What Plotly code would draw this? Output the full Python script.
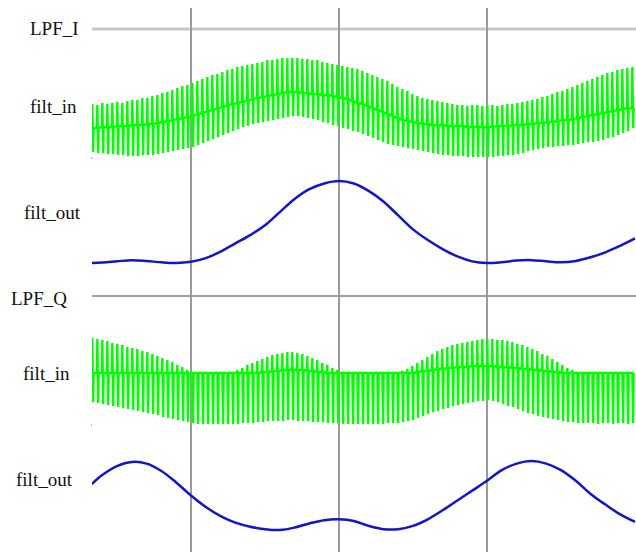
import plotly.graph_objects as go

# ---------------- data ----------------
labels = ["LPF_I", "filt_in", "filt_out", "LPF_Q", "filt_in", "filt_out"]

T_START = 0.33          # first sample time (grid divisions)
CYCLES_PER_DIV = 29.6   # carrier cycles per grid division

# smooth filter outputs, sampled in grid divisions
t_out = [0.33, 0.4, 0.5, 0.6, 0.7, 0.8, 0.9, 1.0, 1.1, 1.2, 1.3, 1.4, 1.5, 1.6, 1.7,
         1.8, 1.9, 2.0, 2.1, 2.2, 2.3, 2.4, 2.5, 2.6, 2.7, 2.8, 2.9, 3.0, 3.1, 3.2,
         3.3, 3.4, 3.5, 3.6, 3.7, 3.8, 3.9, 4.0]
i_out = [0.00, 0.005, 0.02, 0.035, 0.025, 0.008, 0.0, 0.015, 0.06, 0.14, 0.24, 0.34,
         0.46, 0.62, 0.78, 0.90, 0.97, 1.00, 0.97, 0.88, 0.75, 0.58, 0.41, 0.28, 0.17,
         0.08, 0.02, 0.00, 0.01, 0.03, 0.035, 0.02, 0.008, 0.025, 0.07, 0.13, 0.21, 0.30]
q_out = [0.56, 0.67, 0.78, 0.83, 0.81, 0.72, 0.58, 0.42, 0.28, 0.17, 0.09, 0.04, 0.01,
         0.00, 0.03, 0.08, 0.12, 0.13, 0.11, 0.05, 0.01, 0.01, 0.05, 0.13, 0.24, 0.36,
         0.48, 0.60, 0.73, 0.81, 0.84, 0.81, 0.73, 0.60, 0.44, 0.31, 0.19, 0.10]

# filter inputs: per carrier cycle, peak / rest level / trough
i_in_top = [26, 25, 27, 26, 27, 28, 27, 29, 30, 30, 32, 32, 34, 35, 37, 38, 40, 42, 44, 45,
            47, 49, 51, 53, 55, 56, 58, 60, 61, 63, 64, 65, 66, 67, 68, 70, 70, 71, 72, 72,
            72, 72, 71, 71, 70, 70, 68, 67, 66, 65, 64, 63, 62, 61, 59, 57, 55, 53, 51, 49,
            46, 43, 41, 39, 36, 34, 32, 31, 30, 29, 28, 27, 26, 25, 25, 24, 25, 25, 24, 25,
            25, 24, 25, 26, 26, 27, 28, 29, 30, 31, 33, 34, 36, 38, 39, 41, 43, 45, 47, 49,
            51, 53, 55, 57, 58, 60, 61, 62, 63]
i_in_mid = [2, 2, 3, 3, 3, 4, 4, 4, 5, 5, 5, 6, 6, 7, 8, 9, 10, 11, 12, 13,
            14, 16, 17, 19, 20, 22, 23, 25, 26, 27, 28, 30, 31, 32, 33, 34, 35, 36, 37, 38,
            38, 38, 37, 37, 36, 36, 35, 35, 34, 33, 32, 31, 29, 27, 26, 24, 22, 20, 18, 16,
            14, 12, 10, 9, 8, 7, 6, 6, 5, 5, 5, 4, 4, 4, 4, 3, 3, 3, 3, 3,
            3, 4, 4, 4, 5, 5, 5, 6, 6, 7, 7, 8, 8, 9, 10, 10, 11, 12, 13, 14,
            15, 16, 17, 18, 19, 20, 21, 22, 22]
i_in_bot = [-22, -23, -23, -24, -24, -25, -25, -26, -26, -26, -25, -25, -25, -24, -23, -22, -21, -20, -19, -18,
            -17, -15, -13, -11, -9, -7, -5, -3, -1, 1, 3, 4, 6, 7, 8, 9, 10, 11, 12, 13,
            14, 14, 13, 12, 11, 10, 8, 7, 5, 4, 2, 1, -1, -2, -4, -6, -8, -10, -12, -14,
            -15, -16, -17, -18, -19, -20, -21, -22, -23, -24, -25, -25, -26, -26, -26, -27, -27, -27, -27, -27,
            -27, -26, -26, -25, -25, -24, -23, -21, -20, -19, -18, -17, -17, -16, -16, -15, -15, -14, -13, -12,
            -12, -11, -10, -8, -7, -5, -3, -1, 2]

q_in_top = [35, 34, 33, 32, 30, 29, 28, 26, 25, 24, 22, 21, 19, 17, 15, 13, 11, 8, 6, 3,
            1, 0, 0, 0, 0, 0, 0, 0, 1, 3, 5, 8, 10, 12, 14, 16, 18, 19, 20, 21,
            21, 20, 19, 17, 15, 13, 10, 8, 5, 3, 1, 0, 0, 0, 0, 0, 0, 0, 0, 0,
            0, 0, 2, 4, 7, 10, 13, 16, 19, 22, 24, 26, 28, 29, 30, 31, 32, 33, 34, 34,
            34, 33, 33, 32, 31, 29, 28, 26, 24, 22, 19, 17, 14, 11, 8, 5, 3, 1, 0, 0,
            0, 0, 0, 0, 0, 0, 0, 0, 0]
q_in_mid = [0, 0, 0, 0, 0, 0, 0, 0, 0, 0, 0, 0, 0, 0, 0, 0, 0, 0, 0, 0,
            0, 0, 0, 0, 0, 0, 0, 0, 0, 0, 0, 0, 0, 0, 1, 1, 2, 2, 3, 3,
            3, 3, 3, 2, 2, 1, 1, 0, 0, 0, 0, 0, 0, 0, 0, 0, 0, 0, 0, 0,
            0, 0, 0, 0, 0, 1, 2, 2, 3, 4, 4, 5, 5, 6, 6, 6, 7, 7, 7, 7,
            7, 6, 6, 6, 5, 5, 4, 4, 3, 3, 2, 2, 1, 1, 0, 0, 0, 0, 0, 0,
            0, 0, 0, 0, 0, 0, 0, 0, 0]
q_in_bot = [-29, -30, -31, -32, -33, -34, -35, -36, -37, -38, -39, -40, -41, -42, -44, -45, -46, -47, -48, -49,
            -50, -51, -51, -51, -51, -51, -51, -51, -51, -51, -50, -50, -50, -49, -49, -48, -48, -48, -48, -47,
            -47, -48, -48, -48, -49, -49, -49, -50, -50, -50, -51, -51, -51, -51, -51, -51, -51, -51, -51, -50,
            -50, -50, -49, -48, -47, -45, -43, -41, -39, -38, -36, -35, -33, -32, -31, -30, -29, -28, -28, -27,
            -28, -29, -31, -33, -34, -36, -38, -40, -41, -43, -44, -45, -46, -47, -48, -49, -49, -50, -50, -50,
            -50, -51, -50, -50, -51, -50, -50, -51, -50]

# ---------------- layout geometry ----------------
W, H = 636, 552
L, T, B = 92, 8, 0
PH = H - T - B
X_LO, X_HI = 1 - 99 / 148, 1 + 445 / 148   # visible time window


def py(px):
    """pixel row -> paper y"""
    return (H - B - px) / PH


def px_x(px):
    """pixel column -> paper x"""
    return (px - L) / (W - L)


def lane(top_px, bot_px, ref_px, px_per_unit):
    dom = [py(bot_px), py(top_px)]
    rng = [(ref_px - bot_px) / px_per_unit, (ref_px - top_px) / px_per_unit]
    return dict(domain=dom, range=rng, anchor="x", visible=False, fixedrange=True)


def burst(top, mid, bot):
    period = 1.0 / CYCLES_PER_DIV
    xs, ys = [], []
    for k, (a, m, b) in enumerate(zip(top, mid, bot)):
        t0 = T_START + k * period
        xs += [t0, t0 + 0.1 * period, t0 + 0.26 * period, t0 + 0.36 * period]
        ys += [m, a, b, m]
    return xs, ys


GREEN = "#00ff00"
BLUE = "#1414c8"

fig = go.Figure()
# base subplot (carries the vertical grid over the full height)
fig.add_trace(go.Scatter(x=[X_LO], y=[0], mode="markers", marker=dict(opacity=0),
                         hoverinfo="skip", showlegend=False))

xi, yi = burst(i_in_top, i_in_mid, i_in_bot)
fig.add_trace(go.Scatter(x=xi, y=yi, mode="lines", yaxis="y2",
                         line=dict(color=GREEN, width=2.4), showlegend=False))
fig.add_trace(go.Scatter(x=t_out, y=i_out, mode="lines", yaxis="y3",
                         line=dict(color=BLUE, width=2.5, shape="spline", smoothing=1.0),
                         showlegend=False))
xq, yq = burst(q_in_top, q_in_mid, q_in_bot)
fig.add_trace(go.Scatter(x=xq, y=yq, mode="lines", yaxis="y4",
                         line=dict(color=GREEN, width=2.4), showlegend=False))
fig.add_trace(go.Scatter(x=t_out, y=q_out, mode="lines", yaxis="y5",
                         line=dict(color=BLUE, width=2.5, shape="spline", smoothing=1.0),
                         showlegend=False))
# carriers for the dotted sub-division ticks
for xa in ("x2", "x3"):
    fig.add_trace(go.Scatter(x=[X_LO], y=[0], xaxis=xa, mode="markers",
                             marker=dict(opacity=0), hoverinfo="skip", showlegend=False))

dot_axis = dict(overlaying="x", anchor="free", range=[X_LO, X_HI], tick0=0, dtick=1 / 3,
                ticks="outside", ticklen=2, tickwidth=2, tickcolor="#b0b0b0",
                showticklabels=False, showgrid=False, showline=False, zeroline=False,
                fixedrange=True)

fig.update_layout(
    width=W, height=H,
    margin=dict(l=L, r=0, t=T, b=B, pad=0),
    paper_bgcolor="white", plot_bgcolor="white",
    showlegend=False,
    xaxis=dict(range=[X_LO, X_HI], tickvals=[1, 2, 3, 4], showgrid=True,
               gridcolor="#9a9a9a", gridwidth=2, showticklabels=False, ticks="",
               zeroline=False, showline=False, fixedrange=True),
    xaxis2=dict(dot_axis, position=py(156)),
    xaxis3=dict(dot_axis, position=py(423)),
    yaxis=dict(domain=[0, 1], range=[0, 1], visible=False, fixedrange=True),
    yaxis2=lane(45, 165, 130, 1),
    yaxis3=lane(172, 272, 263, 82),
    yaxis4=lane(330, 432, 373, 1),
    yaxis5=lane(450, 545, 530, 82),
    shapes=[
        dict(type="line", xref="x", yref="paper", x0=X_LO, x1=X_HI, y0=py(29), y1=py(29),
             line=dict(color="#c8c8c8", width=3), layer="below"),
        dict(type="line", xref="x", yref="paper", x0=X_LO, x1=X_HI, y0=py(296), y1=py(296),
             line=dict(color="#a0a0a0", width=2), layer="below"),
    ],
)

label_pos = [(54.5, 29), (53.5, 106), (52, 212), (38.5, 298), (46.5, 373), (44.5, 479)]
for text, (cx, cy) in zip(labels, label_pos):
    fig.add_annotation(text=text, xref="paper", yref="paper", x=px_x(cx), y=py(cy),
                       xanchor="center", yanchor="middle", showarrow=False,
                       font=dict(family="Liberation Serif, Times New Roman, serif",
                                 size=19, color="#111111"))

fig.write_html("out.html")
